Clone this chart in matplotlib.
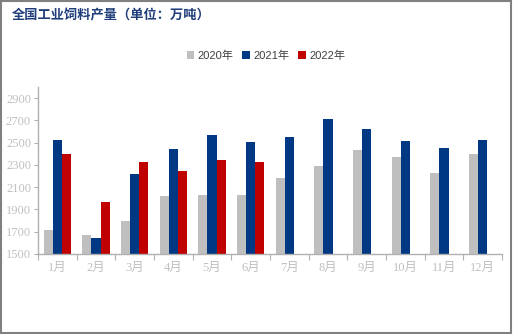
import matplotlib
matplotlib.use("Agg")
import matplotlib.pyplot as plt
from matplotlib.patches import Rectangle
import numpy as np

months = ["1月", "2月", "3月", "4月", "5月", "6月", "7月", "8月", "9月", "10月", "11月", "12月"]
output_2020 = [1716, 1671, 1797, 2022, 2031, 2031, 2184, 2292, 2436, 2373, 2229, 2400]
output_2021 = [2526, 1644, 2220, 2445, 2571, 2502, 2553, 2715, 2625, 2517, 2454, 2526]
output_2022 = [2400, 1968, 2328, 2250, 2346, 2328, np.nan, np.nan, np.nan, np.nan, np.nan, np.nan]
series_names = ["2020年", "2021年", "2022年"]
colors = ["#bfbfbf", "#003884", "#c00000"]
y_ticks = [1500, 1700, 1900, 2100, 2300, 2500, 2700, 2900]

serif = ["Liberation Serif", "Noto Sans CJK SC"]
sans = ["Liberation Sans", "Noto Sans CJK SC"]

fig = plt.figure(figsize=(5.13, 3.34), dpi=100)
ax = fig.add_axes([38 / 513, 80 / 334, 464 / 513, 167 / 334])

x = np.arange(len(months))
w = 0.233
for i, (vals, name, c) in enumerate(zip([output_2020, output_2021, output_2022], series_names, colors)):
    ax.bar(x + (i - 1) * w, vals, width=w, color=c, label=name, zorder=2)

ax.set_xlim(-0.5, len(months) - 0.5)
ax.set_ylim(1500, 3000)

# category boundaries get the ticks, labels sit in the middle
ax.set_xticks(np.arange(len(months) + 1) - 0.5)
ax.set_xticklabels([])
ax.set_xticks(x, minor=True)
ax.set_xticklabels(months, minor=True, family=serif, fontsize=9, color="#c0c0c0")
ax.tick_params(axis="x", which="major", length=4, color="#b0b0b0", direction="out")
ax.tick_params(axis="x", which="minor", length=0, pad=6)

ax.set_yticks(y_ticks)
ax.set_yticklabels([str(v) for v in y_ticks], family=serif, fontsize=9, color="#c0c0c0")
ax.tick_params(axis="y", length=3, color="#b0b0b0", pad=2)

for side in ["top", "right"]:
    ax.spines[side].set_visible(False)
for side in ["left", "bottom"]:
    ax.spines[side].set_color("#b0b0b0")
    ax.spines[side].set_linewidth(1.0)

leg = ax.legend(loc="center", bbox_to_anchor=(266 / 513, 1 - 56 / 334), bbox_transform=fig.transFigure,
                ncol=3, frameon=False, handlelength=0.7, handleheight=0.7, handletextpad=0.3,
                columnspacing=0.8, prop={"family": sans, "size": 8})
for t in leg.get_texts():
    t.set_color("#404040")

fig.text(12 / 513, 1 - 15 / 334, "全国工业饲料产量（单位：万吨）", family=["Noto Sans CJK SC"],
         fontsize=9.5, fontweight="bold", color="#1f3d7a", va="center", ha="left")

# outer frame
fig.patches.append(Rectangle((0.001, 0.002), 0.995, 0.995, transform=fig.transFigure,
                             fill=False, edgecolor="#808080", linewidth=1.5))

fig.savefig("out.png", dpi=100)
